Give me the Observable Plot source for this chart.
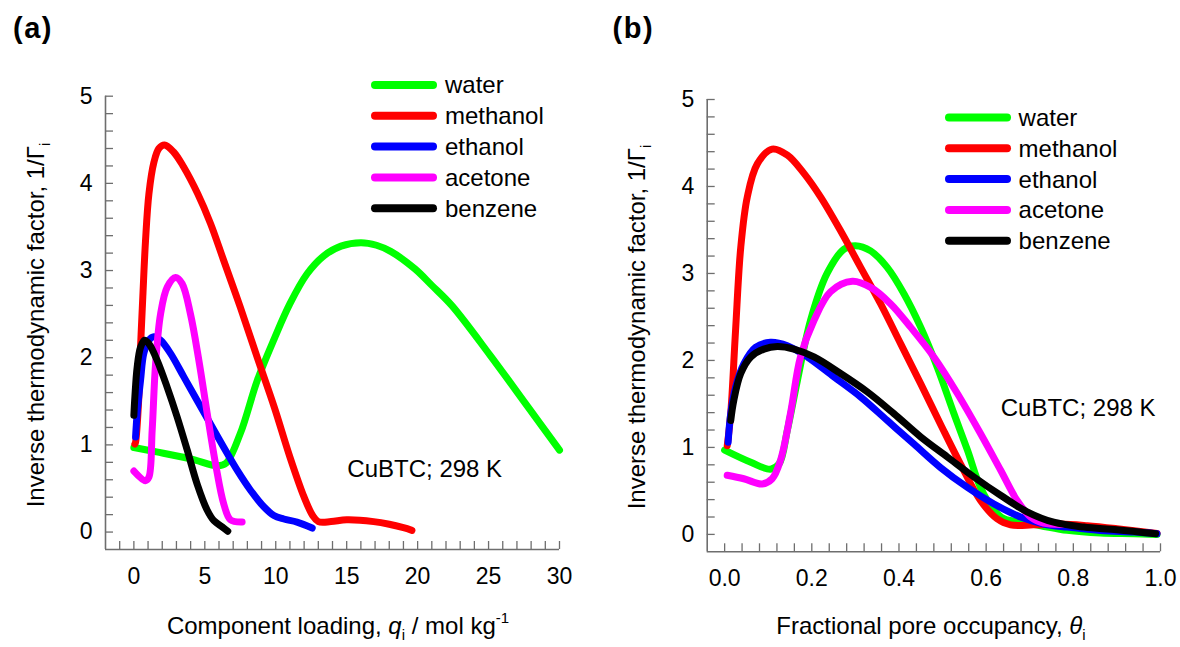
<!DOCTYPE html>
<html><head><meta charset="utf-8">
<script src="https://cdn.jsdelivr.net/npm/d3@7"></script>
<script src="https://cdn.jsdelivr.net/npm/@observablehq/plot@0.6"></script>
<style>
body{margin:0;background:#fff;}
#wrap{position:relative;width:1180px;height:647px;background:#fff;}
#wrap svg{position:absolute;top:0;}
</style></head><body><div id="wrap"></div>
<script>
// ---------- data ----------
const names = ["water", "methanol", "ethanol", "acetone", "benzene"];
const colors = ["#00ff00", "#ff0000", "#0000ff", "#ff00ff", "#000000"];
const yTicks = [0, 1, 2, 3, 4, 5];

// Panel (a): component loading q (mol/kg) vs 1/Gamma
const aTicks = [0, 5, 10, 15, 20, 25, 30];
const aWaterQ = [0, 1.6, 4.0, 5.9, 6.5, 7.5, 8.7, 9.9, 11.0, 12.2, 13.4, 14.6, 16.0, 17.1, 18.1, 19.8, 21.0, 22.4, 25.1, 27.8, 30];
const aWaterG = [0.97, 0.92, 0.84, 0.76, 0.79, 1.13, 1.74, 2.22, 2.62, 2.96, 3.17, 3.28, 3.32, 3.29, 3.22, 3.02, 2.83, 2.6, 2.03, 1.43, 0.94];
const aMethQ = [0.07, 0.12, 0.35, 0.47, 0.63, 0.82, 1.06, 1.41, 1.76, 2.16, 2.8, 3.5, 4.5, 5.4, 6.3, 7.5, 8.7, 9.9, 11.0, 12.0, 12.6, 13.0, 13.9, 15.0, 16.9, 18.0, 19.0, 19.6];
const aMethG = [1.01, 1.03, 1.55, 2.12, 2.7, 3.34, 3.88, 4.24, 4.4, 4.44, 4.36, 4.19, 3.88, 3.54, 3.13, 2.58, 2.0, 1.43, 0.86, 0.40, 0.19, 0.12, 0.12, 0.14, 0.12, 0.09, 0.05, 0.02];
const aEthQ = [0.12, 0.23, 0.47, 0.7, 1.06, 1.41, 1.88, 2.58, 3.52, 4.46, 5.4, 6.34, 7.28, 8.22, 9.16, 9.87, 10.57, 11.5, 12.57];
const aEthG = [1.09, 1.36, 1.74, 2.05, 2.2, 2.24, 2.2, 2.05, 1.78, 1.51, 1.24, 0.97, 0.71, 0.48, 0.29, 0.19, 0.15, 0.115, 0.046];
const aAceQ = [0, 0.82, 1.06, 1.29, 1.53, 1.88, 2.35, 2.94, 3.4, 3.99, 4.58, 5.17, 5.76, 6.34, 6.81, 7.63];
const aAceG = [0.70, 0.59, 0.63, 1.17, 1.93, 2.5, 2.81, 2.92, 2.85, 2.5, 1.97, 1.36, 0.78, 0.32, 0.14, 0.115];
const aBenQ = [0, 0.07, 0.23, 0.47, 0.75, 1.06, 1.64, 2.35, 3.05, 3.76, 4.46, 5.17, 5.64, 6.22, 6.62];
const aBenG = [1.34, 1.55, 1.89, 2.12, 2.2, 2.16, 1.97, 1.66, 1.32, 0.94, 0.55, 0.25, 0.13, 0.06, 0.01];

// Panel (b): fractional pore occupancy theta vs 1/Gamma
const bTicks = [0, 0.2, 0.4, 0.6, 0.8, 1.0];
const bWaterT = [0, 0.06, 0.105, 0.125, 0.144, 0.167, 0.197, 0.235, 0.274, 0.3, 0.335, 0.373, 0.411, 0.45, 0.488, 0.526, 0.557, 0.587, 0.618, 0.641, 0.679, 0.725, 0.786, 0.862, 0.939, 0.992];
const bWaterG = [0.97, 0.83, 0.75, 0.81, 1.2, 1.77, 2.46, 3.0, 3.28, 3.32, 3.26, 3.07, 2.77, 2.38, 1.92, 1.39, 0.97, 0.54, 0.28, 0.18, 0.14, 0.10, 0.046, 0.015, 0.008, 0.0];
const bMethT = [0.006, 0.014, 0.025, 0.037, 0.052, 0.075, 0.109, 0.144, 0.182, 0.22, 0.266, 0.312, 0.358, 0.404, 0.45, 0.495, 0.541, 0.587, 0.625, 0.656, 0.709, 0.771, 0.832, 0.9, 0.992];
const bMethG = [1.02, 1.39, 2.34, 3.3, 3.88, 4.26, 4.43, 4.36, 4.15, 3.88, 3.49, 3.07, 2.65, 2.19, 1.73, 1.27, 0.81, 0.39, 0.18, 0.11, 0.11, 0.12, 0.10, 0.065, 0.01];
const bEthT = [0.008, 0.014, 0.025, 0.044, 0.071, 0.105, 0.144, 0.19, 0.251, 0.312, 0.373, 0.434, 0.495, 0.557, 0.618, 0.679, 0.732, 0.786, 0.862, 0.939, 0.992];
const bEthG = [1.06, 1.39, 1.69, 1.96, 2.15, 2.21, 2.17, 2.04, 1.81, 1.58, 1.31, 1.04, 0.77, 0.54, 0.35, 0.2, 0.12, 0.084, 0.046, 0.027, 0.008];
const bAceT = [0.006, 0.044, 0.086, 0.109, 0.128, 0.151, 0.174, 0.205, 0.243, 0.293, 0.335, 0.381, 0.427, 0.48, 0.534, 0.587, 0.633, 0.671, 0.702, 0.732, 0.774];
const bAceG = [0.68, 0.64, 0.58, 0.64, 0.85, 1.39, 2.04, 2.46, 2.79, 2.91, 2.84, 2.65, 2.38, 2.04, 1.62, 1.16, 0.74, 0.39, 0.2, 0.13, 0.115];
const bBenT = [0.014, 0.021, 0.037, 0.06, 0.09, 0.121, 0.159, 0.205, 0.266, 0.327, 0.388, 0.45, 0.511, 0.572, 0.633, 0.694, 0.755, 0.824, 0.9, 0.989];
const bBenG = [1.31, 1.54, 1.85, 2.04, 2.13, 2.16, 2.13, 2.04, 1.85, 1.64, 1.39, 1.12, 0.89, 0.66, 0.45, 0.26, 0.14, 0.084, 0.054, 0.008];

const note = "CuBTC; 298 K";

// ---------- drawing ----------
const FONT = "'Liberation Sans', Arial, Helvetica, sans-serif";
const AXIS = "#6e6e6e";
const W = 590, H = 647;

function rows(name, xs, ys) { return xs.map((x, i) => ({name, x, y: ys[i]})); }

function panel(o) {
  const plotW = W - o.ml - o.mr, plotH = H - o.mt - o.mb;
  const xMinor = d3.range(o.minorStart, o.xDomain[1] + o.minorStep / 2, o.minorStep);
  const yMinor = d3.range(0, 5.0001, 0.2);
  const svg = Plot.plot({
    width: W, height: H,
    marginLeft: o.ml, marginRight: o.mr, marginTop: o.mt, marginBottom: o.mb,
    style: {fontFamily: FONT, fontSize: "23px", color: "#000", background: "transparent", overflow: "visible"},
    x: {domain: o.xDomain, label: null},
    y: {domain: [-0.2, 5], label: null},
    color: {domain: names, range: colors},
    marks: [
      Plot.tickX(xMinor, {x: d => d, stroke: AXIS, strokeWidth: 1.3, insetTop: plotH - 8}),
      Plot.tickY(yMinor, {y: d => d, stroke: AXIS, strokeWidth: 1.3, insetRight: plotW - 8}),
      Plot.ruleX([o.xDomain[0]], {stroke: AXIS, strokeWidth: 1.6}),
      Plot.ruleY([-0.2], {stroke: AXIS, strokeWidth: 1.6}),
      Plot.axisX({ticks: o.xTicks, tickSize: 0, tickPadding: 18, tickFormat: o.fmt, label: null, fontSize: 23, fill: "#000"}),
      Plot.axisY({ticks: yTicks, tickSize: 0, tickPadding: 13, tickFormat: d3.format("d"), label: null, fontSize: 23, fill: "#000"}),
      Plot.line(o.data, {x: "x", y: "y", z: "name", stroke: "name", strokeWidth: 7, curve: "catmull-rom", strokeLinecap: "round", strokeLinejoin: "round"}),
      Plot.text([note], {x: o.noteX, y: o.noteY, text: d => d, fontSize: 24, fill: "#000", textAnchor: "middle"})
    ]
  });
  svg.style.left = o.left + "px";
  const s = d3.select(svg);
  // panel label
  s.append("text").attr("x", o.labX).attr("y", 38).attr("text-anchor", "start").attr("font-family", FONT)
    .attr("font-size", 29).attr("font-weight", "bold").attr("letter-spacing", 1.5).text(o.panelLabel);
  // y-axis title
  const yt = s.append("text").attr("transform", `translate(${o.ytX},${o.ytY}) rotate(-90)`)
    .attr("text-anchor", "middle").attr("font-family", FONT).attr("font-size", 24);
  yt.append("tspan").text("Inverse thermodynamic factor, 1/\u0393");
  yt.append("tspan").attr("font-size", 15).attr("dy", 6).text("i");
  // x-axis title
  const xt = s.append("text").attr("x", o.xtX).attr("y", 634)
    .attr("text-anchor", "middle").attr("font-family", FONT).attr("font-size", 24);
  o.xTitle(xt);
  // legend
  names.forEach((n, i) => {
    const y = o.legY + i * 30.8;
    s.append("line").attr("x1", o.legX1).attr("x2", o.legX2).attr("y1", y).attr("y2", y)
      .attr("stroke", colors[i]).attr("stroke-width", 8).attr("stroke-linecap", "round");
    s.append("text").attr("x", o.legT).attr("y", y).attr("dy", "0.35em").attr("text-anchor", "start")
      .attr("font-family", FONT).attr("font-size", 24).text(n);
  });
  document.getElementById("wrap").appendChild(svg);
}

panel({
  left: 0, ml: 105, mr: 31, mt: 95.7, mb: 98,
  xDomain: [-2, 30], xTicks: aTicks, fmt: d3.format("d"), minorStart: -1, minorStep: 1,
  data: [...rows("water", aWaterQ, aWaterG), ...rows("methanol", aMethQ, aMethG), ...rows("ethanol", aEthQ, aEthG), ...rows("acetone", aAceQ, aAceG), ...rows("benzene", aBenQ, aBenG)],
  noteX: 20.5, noteY: 0.72,
  panelLabel: "(a)", labX: 13,
  ytX: 44, ytY: 325, xtX: 338,
  xTitle: t => {
    t.append("tspan").text("Component loading, ");
    t.append("tspan").attr("font-style", "italic").text("q");
    t.append("tspan").attr("font-size", 15).attr("dy", 6).text("i");
    t.append("tspan").attr("dy", -6).text(" / mol kg");
    t.append("tspan").attr("font-size", 15).attr("dy", -11).text("-1");
  },
  legY: 85, legX1: 375, legX2: 433, legT: 445
});

panel({
  left: 590, ml: 116.7, mr: 20, mt: 99, mb: 95.7,
  xDomain: [-0.04, 1.0], xTicks: bTicks, fmt: d3.format(".1f"), minorStart: 0, minorStep: 0.04,
  data: [...rows("water", bWaterT, bWaterG), ...rows("methanol", bMethT, bMethG), ...rows("ethanol", bEthT, bEthG), ...rows("acetone", bAceT, bAceG), ...rows("benzene", bBenT, bBenG)],
  noteX: 0.811, noteY: 1.45,
  panelLabel: "(b)", labX: 22.6,
  ytX: 55, ytY: 327, xtX: 341,
  xTitle: t => {
    t.append("tspan").text("Fractional pore occupancy, ");
    t.append("tspan").attr("font-style", "italic").text("\u03b8");
    t.append("tspan").attr("font-size", 15).attr("dy", 6).text("i");
  },
  legY: 117.5, legX1: 359, legX2: 417, legT: 428.6
});
</script></body></html>
